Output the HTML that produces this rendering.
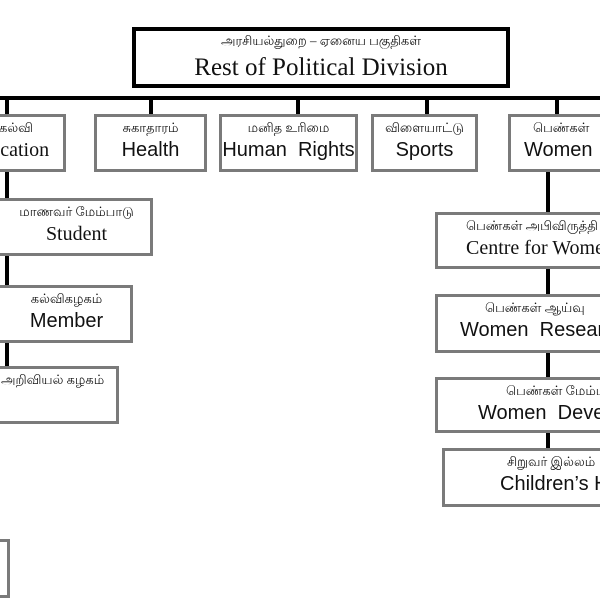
<!DOCTYPE html>
<html><head><meta charset="utf-8"><style>
html,body{margin:0;width:600px;height:600px;overflow:hidden}
body{background:#fff;position:relative;font-family:"Liberation Sans",sans-serif}
#w{position:absolute;left:0;top:0;width:600px;height:600px;overflow:hidden}
.b{position:absolute;box-sizing:border-box;border:3px solid #7a7a7a;background:#fff;text-align:center;color:#111;white-space:nowrap;overflow:hidden}
.l{position:absolute;background:#000}
.t{font-size:13px;line-height:14px;margin-top:4px;font-family:"Liberation Serif","Noto Sans CJK JP",serif}
.e{font-size:20px;line-height:24px;margin-top:3px}
.s{font-family:"Liberation Serif",serif}
.L{text-align:left}
</style></head><body><div id="w">
<div class="l" style="left:0;top:96px;width:600px;height:4px"></div>
<div class="l" style="left:5px;top:98px;width:4px;height:270px"></div>
<div class="l" style="left:149px;top:98px;width:4px;height:17px"></div>
<div class="l" style="left:296px;top:98px;width:4px;height:17px"></div>
<div class="l" style="left:425px;top:98px;width:4px;height:17px"></div>
<div class="l" style="left:555px;top:98px;width:4px;height:17px"></div>
<div class="l" style="left:546px;top:170px;width:4px;height:280px"></div>

<div class="b" style="left:132px;top:27px;width:378px;height:61px;border-color:#000;border-width:4px">
<div class="t" style="margin-top:3px">அரசியல்துறை – ஏனைய பகுதிகள்</div>
<div class="e s" style="font-size:25px;line-height:28px;margin-top:6px">Rest of Political Division</div></div>

<div class="b" style="left:-80px;top:114px;width:146px;height:58px"><div class="t L" style="padding-left:76px">கல்வி</div><div class="e s L" style="padding-left:45px">Education</div></div>
<div class="b" style="left:94px;top:114px;width:113px;height:58px"><div class="t">சுகாதாரம்</div><div class="e">Health</div></div>
<div class="b" style="left:219px;top:114px;width:139px;height:58px"><div class="t">மனித உரிமை</div><div class="e">Human&nbsp; Rights</div></div>
<div class="b" style="left:371px;top:114px;width:107px;height:58px"><div class="t">விளையாட்டு</div><div class="e">Sports</div></div>
<div class="b" style="left:508px;top:114px;width:120px;height:58px"><div class="t L" style="padding-left:22px">பெண்கள்</div><div class="e L" style="padding-left:13px">Women</div></div>

<div class="b" style="left:-60px;top:198px;width:213px;height:58px"><div class="t" style="padding-left:60px">மாணவர் மேம்பாடு</div><div class="e s" style="padding-left:60px">Student</div></div>
<div class="b" style="left:-60px;top:285px;width:193px;height:58px"><div class="t" style="padding-left:60px">கல்விகழகம்</div><div class="e" style="padding-left:60px">Member</div></div>
<div class="b" style="left:-60px;top:366px;width:179px;height:58px"><div class="t L" style="padding-left:58px">அறிவியல் கழகம்</div></div>
<div class="b" style="left:-60px;top:539px;width:70px;height:59px"></div>

<div class="b" style="left:435px;top:212px;width:220px;height:57px"><div class="t L" style="padding-left:28px">பெண்கள் அபிவிருத்தி</div><div class="e s L" style="padding-left:28px">Centre for Women</div></div>
<div class="b" style="left:435px;top:294px;width:220px;height:59px"><div class="t L" style="padding-left:47px">பெண்கள் ஆய்வு</div><div class="e L" style="padding-left:22px">Women&nbsp; Research</div></div>
<div class="b" style="left:435px;top:377px;width:220px;height:56px"><div class="t L" style="padding-left:68px">பெண்கள் மேம்பாடு</div><div class="e L" style="padding-left:40px">Women&nbsp; Development</div></div>
<div class="b" style="left:442px;top:448px;width:220px;height:59px"><div class="t L" style="padding-left:62px">சிறுவர் இல்லம்</div><div class="e L" style="padding-left:55px">Children’s Home</div></div>
</div></body></html>
